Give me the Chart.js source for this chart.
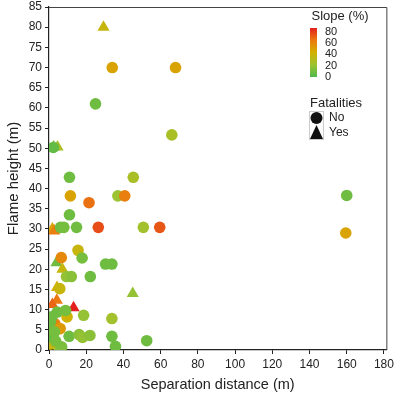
<!DOCTYPE html>
<html>
<head>
<meta charset="utf-8">
<script src="https://cdn.jsdelivr.net/npm/chart.js@4.4.0/dist/chart.umd.min.js"></script>
<style>
  html, body { margin: 0; padding: 0; background: #fff; }
  #wrap { width: 397px; height: 395px; }
</style>
</head>
<body>
<div id="wrap"><canvas id="fires" width="397" height="395"></canvas></div>
<script>
// no fatalities (circles)
var noX = [34, 68, 25, 66, 2.3, 160, 159.5, 11, 45.3, 11.5, 21.5, 37, 40.7, 11, 6.2, 8, 14.8, 26.5, 50.7, 59.5,
    15.6, 6.6, 17.8, 30.4, 33.8, 9.4, 12, 22.2, 33.8, 18.6, 9.7, 4.4, 8.9, 3.2, 6, 10.8, 16.2, 18, 22, 33.8,
    35.7, 52.5, 6.8, 1, 2, 5.8, 0.8, 3, 1.5, 3.6];
var noY = [70, 70, 61, 53.3, 50.2, 38.3, 29, 42.8, 42.8, 38.2, 36.5, 38.2, 38.2, 33.5, 30.4, 30.4, 30.4, 30.4, 30.4, 30.4,
    24.7, 22.9, 22.8, 21.3, 21.3, 18.2, 18.2, 18.2, 7.8, 8.6, 8.2, 9.4, 9.8, 6.5, 5.3, 3.4, 3.8, 3.1, 3.6, 3.4,
    0.9, 2.3, 0.8, 1.5, 3, 15.2, 7, 4.5, 8.2, 2.2];
var noSlope = [45, 45, 8, 25, 5, 8, 45, 8, 25, 45, 62, 20, 58, 8, 8, 10, 8, 70, 22, 68,
    35, 55, 10, 8, 8, 18, 15, 8, 22, 18, 38, 8, 10, 58, 48, 8, 15, 18, 15, 8,
    8, 8, 12, 35, 5, 35, 8, 10, 8, 10];

// fatalities (triangles)
var yesX = [29.3, 2.5, 4.6, 1.8, 2.8, 4, 7.2, 4.3, 45, 4.2, 1.8, 13.2, 1.4, 2.5, 4, 5.5, 0.8, 0.6];
var yesY = [80, 50.3, 50.3, 30, 29.5, 21.6, 20, 15.5, 14, 12.3, 11.3, 10.5, 5.5, 3.5, 2, 0.8, 2.2, 7.5];
var yesSlope = [35, 8, 25, 45, 58, 8, 35, 40, 18, 60, 65, 80, 8, 8, 12, 15, 35, 8];

var xTickValues = [0, 20, 40, 60, 80, 100, 120, 140, 160, 180];
var yTickValues = [0, 5, 10, 15, 20, 25, 30, 35, 40, 45, 50, 55, 60, 65, 70, 75, 80, 85];
var slopeLabels = [80, 60, 40, 20, 0];

// green -> yellow -> red colour ramp for slope
var rampStops = [
    [0, [79, 184, 74]],
    [20, [156, 195, 50]],
    [40, [212, 176, 0]],
    [60, [235, 122, 16]],
    [80, [227, 32, 31]]
];
function slopeColor(s) {
    if (s <= rampStops[0][0]) return rgb(rampStops[0][1]);
    for (var i = 1; i < rampStops.length; i++) {
        if (s <= rampStops[i][0]) {
            var a = rampStops[i - 1], b = rampStops[i];
            var t = (s - a[0]) / (b[0] - a[0]);
            return rgb([0, 1, 2].map(function (k) { return a[1][k] + (b[1][k] - a[1][k]) * t; }));
        }
    }
    return rgb(rampStops[rampStops.length - 1][1]);
}
function rgb(c) {
    return "rgb(" + Math.round(c[0]) + "," + Math.round(c[1]) + "," + Math.round(c[2]) + ")";
}
function toPoints(xs, ys) {
    var pts = [];
    for (var i = 0; i < xs.length; i++) pts.push({ x: xs[i], y: ys[i] });
    return pts;
}

Chart.defaults.font.family = "'Liberation Sans', Arial, sans-serif";
Chart.defaults.font.size = 12;
Chart.defaults.color = '#222';

// frame on top/right plus the hand made legend
var legendPlugin = {
    id: 'slopeLegend',
    afterDraw: function (chart) {
        var ctx = chart.ctx;
        var a = chart.chartArea;
        ctx.save();
        ctx.strokeStyle = '#444';
        ctx.lineWidth = 1;
        ctx.beginPath();
        ctx.moveTo(a.left, a.top + 0.5);
        ctx.lineTo(a.right + 0.5, a.top + 0.5);
        ctx.lineTo(a.right + 0.5, a.bottom);
        ctx.stroke();

        ctx.fillStyle = '#222';
        ctx.textAlign = 'center';
        ctx.textBaseline = 'middle';
        ctx.font = "13px 'Liberation Sans', Arial, sans-serif";
        ctx.fillText('Slope (%)', 340, 16);

        // gradient bar
        var barTop = 28, barBottom = 77;
        var grad = ctx.createLinearGradient(0, barBottom, 0, barTop);
        for (var i = 0; i < rampStops.length; i++) {
            grad.addColorStop(rampStops[i][0] / 80, rgb(rampStops[i][1]));
        }
        ctx.fillStyle = grad;
        ctx.fillRect(310, barTop, 7, barBottom - barTop);

        ctx.fillStyle = '#222';
        ctx.textAlign = 'left';
        ctx.font = "11px 'Liberation Sans', Arial, sans-serif";
        for (var j = 0; j < slopeLabels.length; j++) {
            ctx.fillText(String(slopeLabels[j]), 325, 32 + j * 11.2);
        }

        ctx.textAlign = 'center';
        ctx.font = "13px 'Liberation Sans', Arial, sans-serif";
        ctx.fillText('Fatalities', 336, 103);

        ctx.strokeStyle = '#ccc';
        ctx.strokeRect(309.5, 111.5, 14, 28);
        ctx.fillStyle = '#111';
        ctx.beginPath();
        ctx.arc(316.5, 118, 6, 0, Math.PI * 2);
        ctx.fill();
        ctx.beginPath();
        ctx.moveTo(316.5, 125);
        ctx.lineTo(323, 139);
        ctx.lineTo(310, 139);
        ctx.closePath();
        ctx.fill();

        ctx.fillStyle = '#222';
        ctx.textAlign = 'left';
        ctx.font = "12px 'Liberation Sans', Arial, sans-serif";
        ctx.fillText('No', 329, 118);
        ctx.fillText('Yes', 329, 133);
        ctx.restore();
    }
};

var ctx = document.getElementById('fires').getContext('2d');
var myChart = new Chart(ctx, {
    type: 'scatter',
    data: {
        datasets: [{
            label: 'No',
            data: toPoints(noX, noY),
            pointStyle: 'circle',
            pointRadius: 5.8,
            pointHoverRadius: 5.8,
            borderWidth: 0,
            backgroundColor: noSlope.map(slopeColor)
        }, {
            label: 'Yes',
            data: toPoints(yesX, yesY),
            pointStyle: 'triangle',
            pointRadius: 7,
            pointHoverRadius: 7,
            borderWidth: 0,
            backgroundColor: yesSlope.map(slopeColor)
        }]
    },
    options: {
        responsive: false,
        animation: false,
        layout: { padding: { top: 0, right: 8, left: 0, bottom: 0 } },
        plugins: {
            legend: { display: false },
            tooltip: { enabled: false }
        },
        scales: {
            x: {
                type: 'linear',
                min: 0,
                max: 181.3,
                afterBuildTicks: function (s) {
                    s.ticks = xTickValues.map(function (v) { return { value: v }; });
                },
                afterFit: function (s) { s.height = 45; },
                grid: { display: true, drawOnChartArea: false, tickLength: 4, color: '#222' },
                border: { display: true, color: '#222', width: 1.2 },
                ticks: { padding: 3, maxRotation: 0, autoSkip: false, font: { size: 12 } },
                title: { display: true, text: 'Separation distance (m)', font: { size: 14.5 }, padding: { top: 4, bottom: 1 } }
            },
            y: {
                type: 'linear',
                min: 0,
                max: 85,
                afterBuildTicks: function (s) {
                    s.ticks = yTickValues.map(function (v) { return { value: v }; });
                },
                afterFit: function (s) { s.width = 49; s.paddingTop = 5; },
                grid: { display: true, drawOnChartArea: false, tickLength: 4, color: '#222' },
                border: { display: true, color: '#222', width: 1.2 },
                ticks: { padding: 3, autoSkip: false, font: { size: 12 } },
                title: { display: true, text: 'Flame height (m)', font: { size: 15 }, padding: { top: 5, bottom: 0 } }
            }
        }
    },
    plugins: [legendPlugin]
});
</script>
</body>
</html>
